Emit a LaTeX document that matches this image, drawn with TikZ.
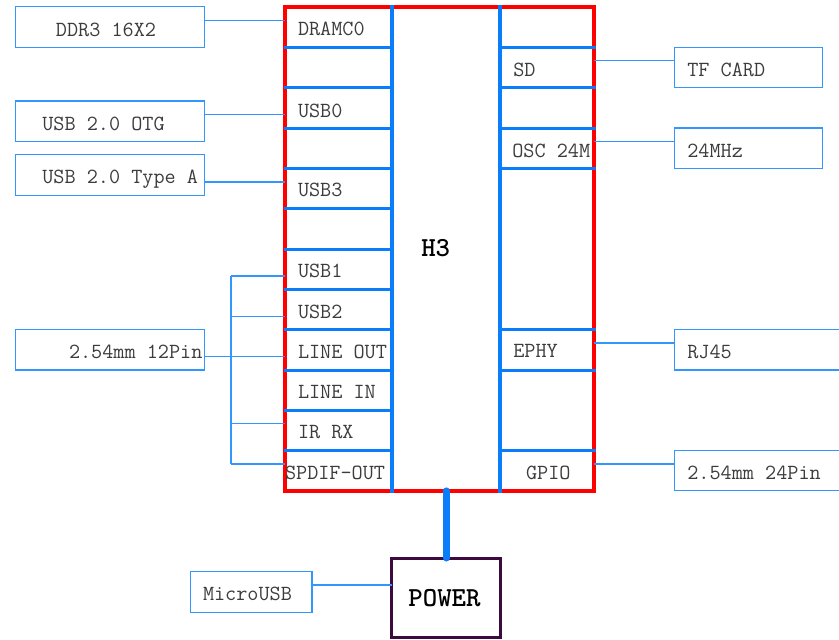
\documentclass[tikz,border=0pt]{standalone}
\usepackage{fontspec}
\definecolor{chipred}{RGB}{255,0,0}
\definecolor{pinblue}{RGB}{10,125,250}
\definecolor{thinblue}{RGB}{51,150,255}
\definecolor{txtgray}{RGB}{60,60,60}
\definecolor{pwrpurple}{RGB}{60,10,62}
\begin{document}
\begin{tikzpicture}[x=1pt,y=-1pt,
  every node/.style={outer sep=0pt},
  lbl/.style={font=\ttfamily\fontsize{21.6}{22}\selectfont, text=txtgray, inner sep=0pt, anchor=base west},
  boldlbl/.style={font=\ttfamily\bfseries\fontsize{27.5}{28}\selectfont, text=black, inner sep=0pt, anchor=base},
  ext/.style={draw=thinblue, line width=1.5pt, inner sep=0pt, anchor=north west},
  conn/.style={draw=thinblue, line width=1.3pt},
  pinsep/.style={draw=pinblue, line width=3pt, line cap=rect},
  pinbar/.style={draw=pinblue, line width=3.7pt, line cap=rect},
  chipbox/.style={draw=chipred, line width=3.7pt, inner sep=0pt, anchor=north west},
  pwrbox/.style={draw=pwrpurple, line width=3pt, inner sep=0pt, anchor=north west},
  pwrconn/.style={draw=pinblue, line width=7pt, line cap=round}]
\useasboundingbox (0,0) rectangle (839,640);
\clip (0,0) rectangle (839,640);

% chip
\node[chipbox, minimum width=309pt, minimum height=483.6pt] (chip) at (285,7.3) {};
\draw[pinbar] (392,7.3) -- (392,490.9);
\draw[pinbar] (500,7.3) -- (500,490.9);
\foreach \yy in {47.6,87.9,128.2,168.5,208.8,249.1,289.4,329.7,370.0,410.3,450.6}
  \draw[pinsep] (285,\yy) -- (392,\yy);
\foreach \yy in {47.6,87.9,128.2,168.5,329.7,370.0,450.6}
  \draw[pinsep] (500,\yy) -- (594,\yy);

% pin labels
\node[lbl] (dram) at (298,35.7) {DRAMC0};
\node[lbl] (usb0) at (298,117) {USB0};
\node[lbl] (usb3) at (298,196.7) {USB3};
\node[lbl] (usb1) at (298,277.3) {USB1};
\node[lbl] (usb2) at (298,318) {USB2};
\node[lbl] (lout) at (298,358.3) {LINE OUT};
\node[lbl] (lin) at (298,398.5) {LINE IN};
\node[lbl] (irrx) at (298,438.7) {IR RX};
\node[lbl] (spdif) at (285,479) {SPDIF-OUT};
\node[lbl] (sd) at (513.3,76) {SD};
\node[lbl] (osc) at (512.3,157) {OSC 24M};
\node[lbl] (ephy) at (513.3,357.7) {EPHY};
\node[lbl] (gpio) at (526,479) {GPIO};
\node[boldlbl] (h3) at (435.7,256.7) {H3};

% chip edge coordinates
\coordinate (cdram) at (285,20.3);
\coordinate (cusb0) at (285,114.7);
\coordinate (cusb3) at (285,182);
\coordinate (cusb1) at (285,276);
\coordinate (cusb2) at (285,316.3);
\coordinate (clout) at (285,356.3);
\coordinate (cirrx) at (285,423.7);
\coordinate (cspdif) at (285,464);
\coordinate (bustop) at (231,276);
\coordinate (busbot) at (231,464);
\coordinate (csd) at (594,60.7);
\coordinate (cosc) at (594,141.3);
\coordinate (cephy) at (594,343);
\coordinate (cgpio) at (594,464);

% external boxes left
\node[ext, minimum width=188.6pt, minimum height=40.6pt] (ddr) at (15.7,6.7) {};
\node[ext, minimum width=188.6pt, minimum height=40.7pt] (otg) at (15.7,101) {};
\node[ext, minimum width=188.6pt, minimum height=40.6pt] (typea) at (15.7,154.7) {};
\node[ext, minimum width=188.6pt, minimum height=40.7pt] (pin12) at (15.7,329.3) {};
\node[lbl] at (56,36) {DDR3 16X2};
\node[lbl] at (42.3,130) {USB 2.0 OTG};
\node[lbl] at (42.3,183.7) {USB 2.0 Type A};
\node[lbl] at (69,358) {2.54mm 12Pin};

% external boxes right
\node[ext, minimum width=148.4pt, minimum height=40.4pt] (tf) at (674.3,47.3) {};
\node[ext, minimum width=148.4pt, minimum height=40.3pt] (mhz) at (674.3,128) {};
\node[ext, minimum width=180pt, minimum height=40.3pt] (rj) at (674.3,329.7) {};
\node[ext, minimum width=180pt, minimum height=40pt] (pin24) at (674.3,450.7) {};
\node[lbl] at (687.3,76.3) {TF CARD};
\node[lbl] at (687.3,157) {24MHz};
\node[lbl] at (687.3,358.3) {RJ45};
\node[lbl] at (687.3,479.5) {2.54mm 24Pin};

% power
\node[pwrbox, minimum width=109pt, minimum height=79.5pt] (pwr) at (391.7,558) {};
\node[boldlbl] at (444.5,606.7) {POWER};
\node[ext, minimum width=121.3pt, minimum height=40.6pt] (musb) at (190.7,571.7) {};
\node[lbl] at (203,600.5) {MicroUSB};

% connectors
\draw[conn] (ddr.east |- cdram) -- (cdram);
\draw[conn] (otg.east |- cusb0) -- (cusb0);
\draw[conn] (typea.east |- cusb3) -- (cusb3);
\draw[conn] (pin12.east |- clout) -- (clout);
\draw[conn] (bustop) -- (busbot);
\draw[conn] (bustop) -- (cusb1);
\draw[conn] (bustop |- cusb2) -- (cusb2);
\draw[conn] (bustop |- cirrx) -- (cirrx);
\draw[conn] (busbot) -- (cspdif);
\draw[conn] (csd) -- (tf.west |- csd);
\draw[conn] (cosc) -- (mhz.west |- cosc);
\draw[conn] (cephy) -- (rj.west |- cephy);
\draw[conn] (cgpio) -- (pin24.west |- cgpio);
\draw[conn] (musb.east |- 0,585) -- (pwr.west |- 0,585);
\draw[pwrconn] (pwr.north |- chip.south) -- (pwr.north);
\end{tikzpicture}
\end{document}
